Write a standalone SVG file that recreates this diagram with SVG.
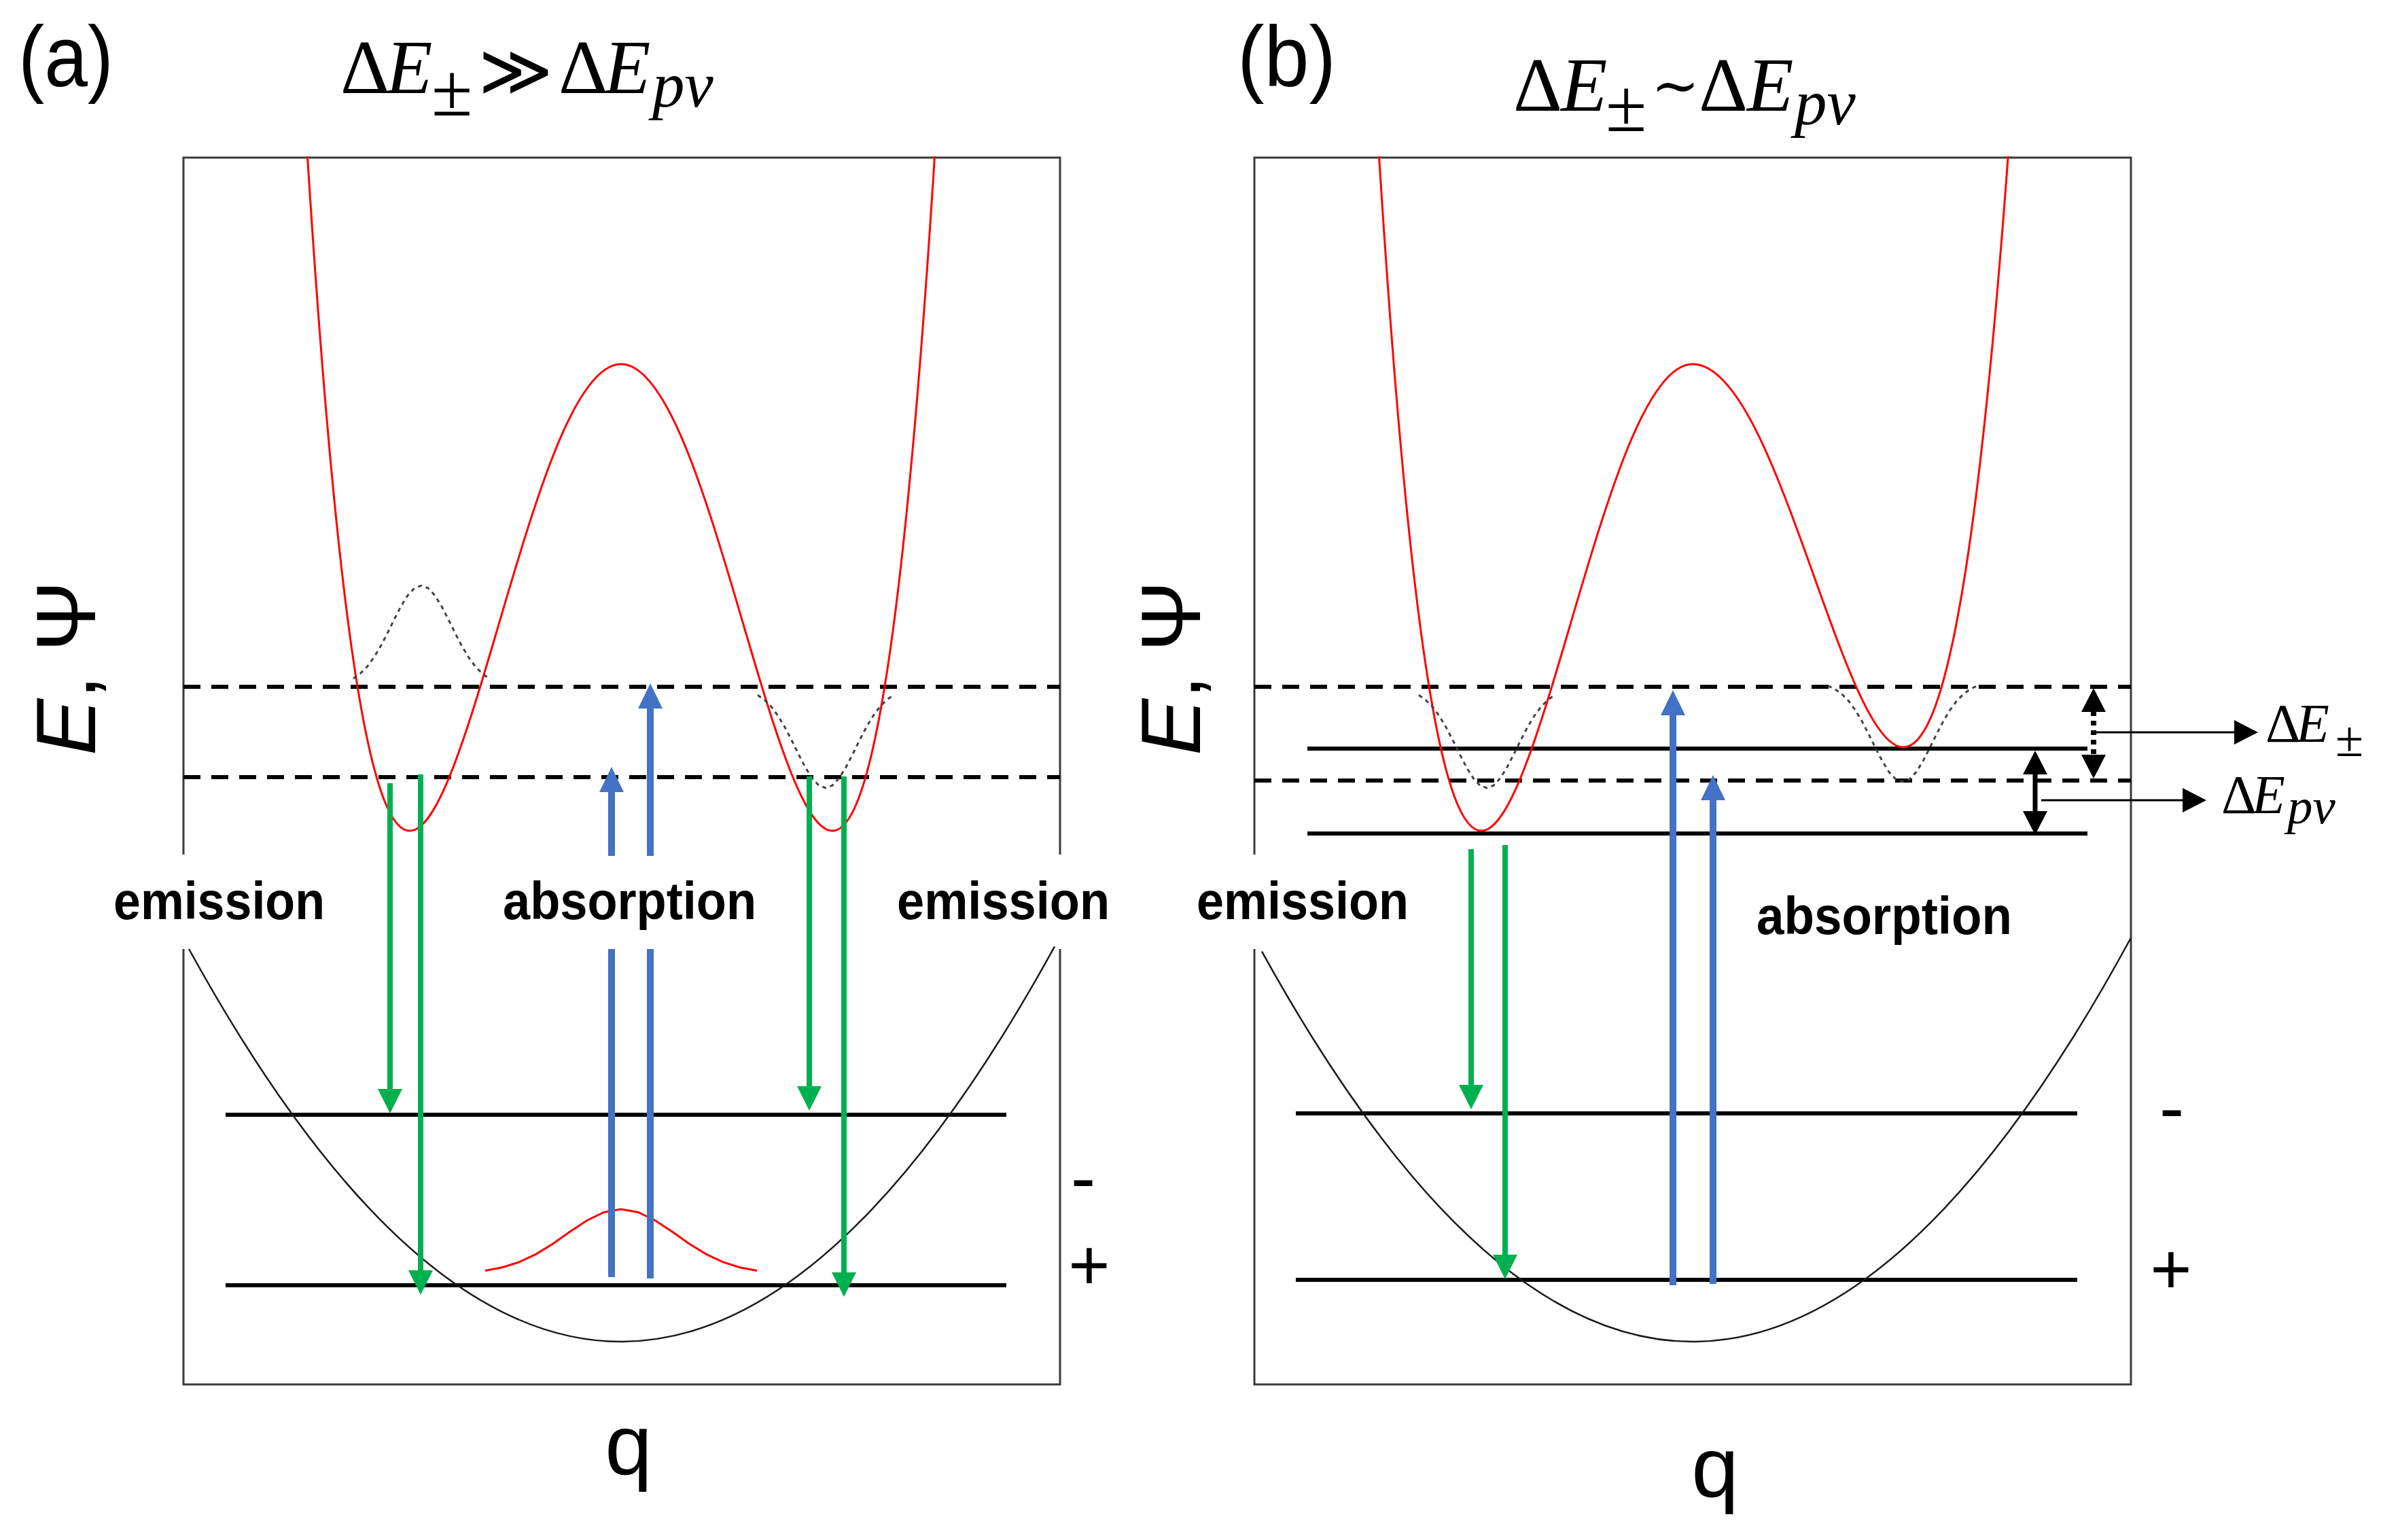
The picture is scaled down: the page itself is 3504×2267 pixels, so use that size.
<svg xmlns="http://www.w3.org/2000/svg" width="3504" height="2267" viewBox="0 0 3504 2267">
<style>
.box{fill:none;stroke:#3a3a3a;stroke-width:3}
.dash{stroke:#000;stroke-width:6;stroke-dasharray:25 16;fill:none}
.lvl{stroke:#000;stroke-width:6;fill:none}
.red{fill:none;stroke:#ff0000;stroke-width:3}
.gnd{fill:none;stroke:#1a1a1a;stroke-width:2.5}
.psi{fill:none;stroke:#444;stroke-width:3;stroke-dasharray:6 6}
.gr{stroke:#00b050;stroke-width:8;fill:none}
.bl{stroke:#4472c4;stroke-width:10;fill:none}
.lab{font-family:"Liberation Sans",Arial,sans-serif;font-weight:bold;font-size:78px;fill:#000}
.sans{font-family:"Liberation Sans",Arial,sans-serif;fill:#000}
.math{font-family:"Liberation Serif","Times New Roman",serif;fill:#000}
.op{font-family:"DejaVu Serif",serif;fill:#000}
</style>
<defs>
<marker id="hg" viewBox="0 0 36 36" refX="1" refY="18" markerWidth="36" markerHeight="36" orient="auto" markerUnits="userSpaceOnUse"><path d="M0,0 L36,18 L0,36 Z" fill="#00b050"/></marker>
<marker id="hb" viewBox="0 0 37 36" refX="1" refY="18" markerWidth="37" markerHeight="36" orient="auto" markerUnits="userSpaceOnUse"><path d="M0,0 L37,18 L0,36 Z" fill="#4472c4"/></marker>
<marker id="hk" viewBox="0 0 35 36" refX="1" refY="18" markerWidth="35" markerHeight="36" orient="auto-start-reverse" markerUnits="userSpaceOnUse"><path d="M0,0 L35,18 L0,36 Z" fill="#000"/></marker>
</defs>
<rect width="3504" height="2267" fill="#fff"/>

<g id="panel-a">
<text class="sans" x="27" y="127" font-size="127" textLength="140" lengthAdjust="spacingAndGlyphs">(a)</text>
<g id="title-a">
<text class="math" y="137" font-size="112"><tspan x="501">Δ</tspan><tspan x="568" font-style="italic">E</tspan></text>
<text class="math" x="635" y="170" font-size="110">±</text>
<text class="op" x="704" y="140" font-size="105">≫</text>
<text class="math" y="137" font-size="112"><tspan x="822">Δ</tspan><tspan x="889" font-style="italic">E</tspan></text>
<text class="math" x="960" y="157" font-size="95" font-style="italic">pv</text>
</g>
<text class="sans" transform="translate(140,1112) rotate(-90)" font-size="125"><tspan font-style="italic">E</tspan>, Ψ</text>
<text class="sans" x="925" y="2170" font-size="125" text-anchor="middle">q</text>
<path class="box" d="M270,1258 V232 H1560 V1258 M270,1397 V2038 H1560 V1397"/>
<line class="dash" x1="270" y1="1011" x2="1560" y2="1011"/>
<line class="dash" x1="270" y1="1144" x2="1560" y2="1144"/>
<line class="lvl" x1="332" y1="1641" x2="1481" y2="1641"/>
<line class="lvl" x1="332" y1="1892" x2="1481" y2="1892"/>
<path class="red" d="M452.5,230.4 C473,553.5 493.5,776.5 514,928.9 C530.67,1052.8 547.33,1130 564,1174.2 C577,1208.6 590,1223 603,1223 C623.33,1223 643.67,1188.1 664,1137 C687.33,1078.4 710.67,998.6 734,919.2 C760.67,828.5 787.33,738.6 814,670.7 C847.33,585.8 880.67,536 914,536 C947.33,536 980.67,585.8 1014,670.7 C1040.67,738.6 1067.33,828.5 1094,919.2 C1117.33,998.6 1140.67,1078.4 1164,1137 C1184.33,1188.1 1204.67,1223 1225,1223 C1238,1223 1251,1208.6 1264,1174.2 C1280.67,1130 1297.33,1052.8 1314,928.9 C1334.5,776.5 1355,553.5 1375.5,230.4"/>
<polyline class="psi" points="520,998.8 530,991.7 540,981.7 550,968.2 560,951.6 570,932.4 580,912.1 590,892.7 600,876.5 610,865.8 620,862 630,865.8 640,876.5 650,892.7 660,912.1 670,932.4 680,951.6 690,968.2 700,981.7 710,991.7 720,998.8"/>
<polyline class="psi" points="1115,1023.2 1125,1030.3 1135,1040.3 1145,1053.8 1155,1070.4 1165,1089.6 1175,1109.9 1185,1129.3 1195,1145.5 1205,1156.2 1215,1160 1225,1156.2 1235,1145.5 1245,1129.3 1255,1109.9 1265,1089.6 1275,1070.4 1285,1053.8 1295,1040.3 1305,1030.3 1315,1023.2"/>
<path class="gnd" d="M278,1397 Q915,2554.9 1552,1393.3"/>
<polyline class="red" points="714,1870.5 739,1865.8 764,1857.9 789,1846.1 814,1830.7 839,1813.1 864,1796.5 889,1784.4 914,1780 939,1784.4 964,1796.5 989,1813.1 1014,1830.7 1039,1846.1 1064,1857.9 1089,1865.8 1114,1870.5"/>
<text class="lab" x="167" y="1353" textLength="311" lengthAdjust="spacingAndGlyphs">emission</text>
<text class="lab" x="740" y="1353" textLength="373" lengthAdjust="spacingAndGlyphs">absorption</text>
<text class="lab" x="1320" y="1353" textLength="313" lengthAdjust="spacingAndGlyphs">emission</text>
<text class="sans" x="1594" y="1771" font-size="110" text-anchor="middle">-</text>
<text class="sans" x="1603" y="1898" font-size="105" text-anchor="middle">+</text>
</g>

<g id="panel-b">
<text class="sans" x="1821" y="127" font-size="127" textLength="145" lengthAdjust="spacingAndGlyphs">(b)</text>
<g id="title-b">
<text class="math" y="163" font-size="112"><tspan x="2227">Δ</tspan><tspan x="2297" font-style="italic">E</tspan></text>
<text class="math" x="2363" y="193" font-size="110">±</text>
<text class="op" x="2430" y="155" font-size="85">∼</text>
<text class="math" y="163" font-size="112"><tspan x="2500">Δ</tspan><tspan x="2571" font-style="italic">E</tspan></text>
<text class="math" x="2641" y="183" font-size="95" font-style="italic">pv</text>
</g>
<text class="sans" transform="translate(1766,1112) rotate(-90)" font-size="125"><tspan font-style="italic">E</tspan>, Ψ</text>
<text class="sans" x="2524" y="2203" font-size="125" text-anchor="middle">q</text>
<path class="box" d="M1846,1258 V232 H3136 V2038 H1846 V1397"/>
<line class="dash" x1="1846" y1="1011" x2="3136" y2="1011"/>
<line class="dash" x1="1846" y1="1149" x2="3136" y2="1149"/>
<line class="lvl" x1="1924" y1="1102" x2="3072" y2="1102"/>
<line class="lvl" x1="1924" y1="1227" x2="3072" y2="1227"/>
<line class="lvl" x1="1907" y1="1639" x2="3057" y2="1639"/>
<line class="lvl" x1="1907" y1="1884" x2="3057" y2="1884"/>
<path class="red" d="M2029.5,230.4 C2050,553.5 2070.5,776.5 2091,928.9 C2107.67,1052.8 2124.33,1130 2141,1174.2 C2154,1208.6 2167,1223 2180,1223 C2200.33,1223 2220.67,1188.1 2241,1137 C2264.33,1078.4 2287.67,998.6 2311,919.2 C2337.67,828.5 2364.33,738.6 2391,670.7 C2424.33,585.8 2457.67,536 2491,536 C2524.33,536 2557.67,577.2 2591,647.3 C2617.67,703.4 2644.33,777.5 2671,852.2 C2694.33,917.5 2717.67,983.2 2741,1031.1 C2761,1072.1 2781,1100 2801,1100 C2814.33,1100 2827.67,1087.5 2841,1057.4 C2857.67,1019.8 2874.33,954.7 2891,850.6 C2912.4,717 2933.8,519.6 2955.2,230"/>
<polyline class="psi" points="2088,1023.2 2098,1030.3 2108,1040.3 2118,1053.8 2128,1070.4 2138,1089.6 2148,1109.9 2158,1129.3 2168,1145.5 2178,1156.2 2188,1160 2198,1156.2 2208,1145.5 2218,1129.3 2228,1109.9 2238,1089.6 2248,1070.4 2258,1053.8 2268,1040.3 2278,1030.3 2288,1023.2"/>
<polyline class="psi" points="2690,1009.5 2700,1014.2 2710,1021.3 2720,1031.3 2730,1044.8 2740,1061.4 2750,1080.6 2760,1100.9 2770,1120.3 2780,1136.5 2790,1147.2 2800,1151 2810,1147.2 2820,1136.5 2830,1120.3 2840,1100.9 2850,1080.6 2860,1061.4 2870,1044.8 2880,1031.3 2890,1021.3 2900,1014.2 2910,1009.5"/>
<path class="gnd" d="M1857,1400.6 Q2496.5,2559.4 3136,1380.5"/>
<text class="lab" x="1761" y="1353" textLength="312" lengthAdjust="spacingAndGlyphs">emission</text>
<text class="lab" x="2585" y="1375" textLength="376" lengthAdjust="spacingAndGlyphs">absorption</text>
<text class="sans" x="3196" y="1668" font-size="110" text-anchor="middle">-</text>
<text class="sans" x="3195" y="1904" font-size="105" text-anchor="middle">+</text>
<g id="delta-labels">
<text class="math" y="1092" font-size="80"><tspan x="3334">Δ</tspan><tspan x="3379" font-style="italic">E</tspan></text>
<text class="math" x="3437" y="1113" font-size="75">±</text>
<text class="math" y="1197" font-size="80"><tspan x="3269">Δ</tspan><tspan x="3314" font-style="italic">E</tspan></text>
<text class="math" x="3366" y="1212" font-size="75" font-style="italic">pv</text>
</g>
</g>

<g id="connectors">
<line class="gr" x1="574" y1="1153" x2="574" y2="1604" marker-end="url(#hg)"/>
<line class="gr" x1="619" y1="1140" x2="619" y2="1871" marker-end="url(#hg)"/>
<line class="gr" x1="1191" y1="1143" x2="1191" y2="1600" marker-end="url(#hg)"/>
<line class="gr" x1="1242" y1="1143" x2="1242" y2="1874" marker-end="url(#hg)"/>
<line class="bl" x1="900" y1="1880" x2="900" y2="1397"/>
<line class="bl" x1="900" y1="1260" x2="900" y2="1165" marker-end="url(#hb)"/>
<line class="bl" x1="957" y1="1882" x2="957" y2="1397"/>
<line class="bl" x1="957" y1="1260" x2="957" y2="1042" marker-end="url(#hb)"/>
<line class="gr" x1="2165" y1="1250" x2="2165" y2="1598" marker-end="url(#hg)"/>
<line class="gr" x1="2215" y1="1244" x2="2215" y2="1848" marker-end="url(#hg)"/>
<line class="bl" x1="2462" y1="1892" x2="2462" y2="1052" marker-end="url(#hb)"/>
<line class="bl" x1="2521" y1="1890" x2="2521" y2="1177" marker-end="url(#hb)"/>
<line x1="3081" y1="1047" x2="3081" y2="1112" stroke="#000" stroke-width="8" stroke-dasharray="7 7" marker-start="url(#hk)" marker-end="url(#hk)"/>
<line x1="2995" y1="1139" x2="2995" y2="1195" stroke="#000" stroke-width="7" marker-start="url(#hk)" marker-end="url(#hk)"/>
<line x1="3081" y1="1078" x2="3289" y2="1078" stroke="#000" stroke-width="3" marker-end="url(#hk)"/>
<line x1="3004" y1="1178" x2="3213" y2="1178" stroke="#000" stroke-width="3" marker-end="url(#hk)"/>
</g>
</svg>
